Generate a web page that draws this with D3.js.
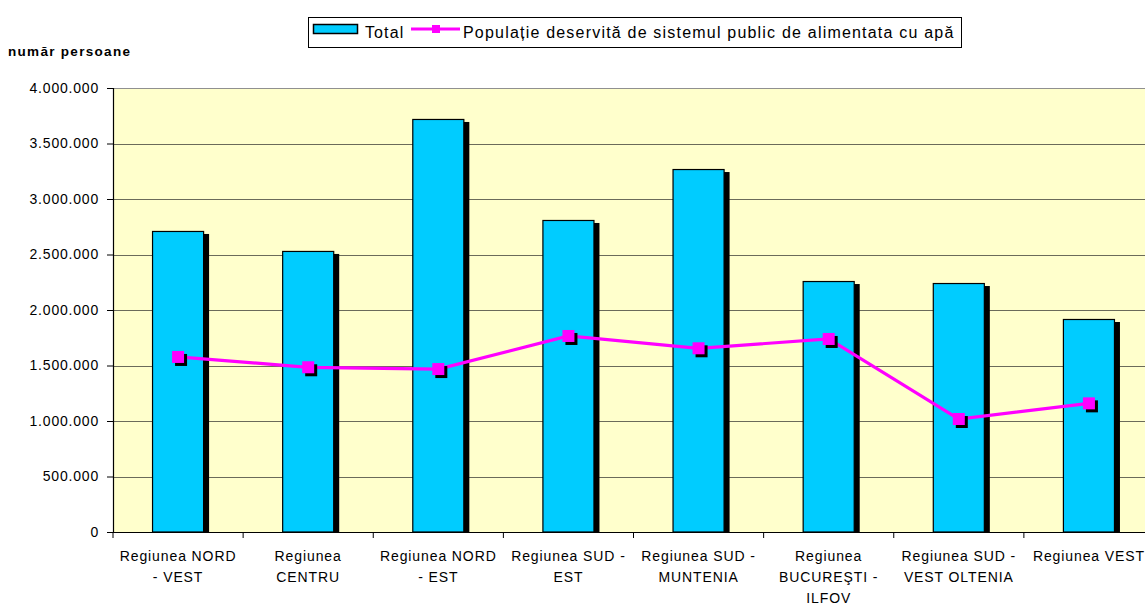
<!DOCTYPE html>
<html><head><meta charset="utf-8">
<script src="https://cdn.jsdelivr.net/npm/d3@7"></script>
<style>
body{margin:0;background:#fff;}
text{font-family:Arial,"Liberation Sans",sans-serif;fill:#000;}
</style></head>
<body><svg id="c" width="1145" height="606"></svg>
<script>
const categories = [
  ["Regiunea NORD","- VEST"],
  ["Regiunea","CENTRU"],
  ["Regiunea NORD","- EST"],
  ["Regiunea SUD -","EST"],
  ["Regiunea SUD -","MUNTENIA"],
  ["Regiunea","BUCUREŞTI -","ILFOV"],
  ["Regiunea SUD -","VEST OLTENIA"],
  ["Regiunea VEST"]
];
const totalValues = [2712000, 2532000, 3721000, 2811000, 3270000, 2261000, 2243000, 1919000];
const servedValues = [1577000, 1484000, 1468000, 1766000, 1655000, 1739000, 1018000, 1159000];
const yTicks = [0, 500000, 1000000, 1500000, 2000000, 2500000, 3000000, 3500000, 4000000];
const seriesNames = ["Total", "Populație deservită de sistemul public de alimentata cu apă"];
const yTitle = "număr persoane";

const svg = d3.select("#c");
const L = 113, T = 88, B = 532, R = 1154;
const keys = categories.map((c,i)=>String(i));
const x = d3.scaleBand().domain(keys).range([L, R]).paddingInner(0.6).paddingOuter(0.3);
const y = d3.scaleLinear().domain([0, 4000000]).range([B, T]);
const loc = d3.formatLocale({decimal:",", thousands:".", grouping:[3], currency:["",""]});
const fmt = loc.format(",d");

// plot background
svg.append("rect").attr("x",L).attr("y",T).attr("width",R-L).attr("height",B-T).attr("fill","#FFFFCC");
// gridlines
svg.append("g").selectAll("line").data(yTicks.slice(1)).join("line")
  .attr("x1",L).attr("x2",R).attr("y1",d=>Math.round(y(d))+0.5).attr("y2",d=>Math.round(y(d))+0.5)
  .attr("stroke",(d,i)=>i===yTicks.length-2?"#909090":"#6b6b5a").attr("stroke-width",1.2);

// bars shadows and bars
const bars = svg.append("g");
bars.selectAll("rect.s").data(totalValues).join("rect").attr("class","s")
  .attr("x",(d,i)=>x(keys[i])+5).attr("y",d=>y(d)+3)
  .attr("width",x.bandwidth()).attr("height",d=>B-y(d)-3).attr("fill","#000");
bars.selectAll("rect.b").data(totalValues).join("rect").attr("class","b")
  .attr("x",(d,i)=>x(keys[i])+0.5).attr("y",d=>y(d)+0.5)
  .attr("width",x.bandwidth()-1).attr("height",d=>B-y(d)-0.5)
  .attr("fill","#00CCFF").attr("stroke","#000").attr("stroke-width",1.2);

// line
const cx = i => x(keys[i]) + x.bandwidth()/2;
const line = d3.line().x((d,i)=>cx(i)).y(d=>y(d));
svg.append("path").datum(servedValues).attr("d",line).attr("fill","none")
  .attr("stroke","#FF00FF").attr("stroke-width",3.2);
const ms = 12;
svg.append("g").selectAll("rect").data(servedValues).join("rect")
  .attr("x",(d,i)=>cx(i)-ms/2+3).attr("y",d=>y(d)-ms/2+3).attr("width",ms).attr("height",ms).attr("fill","#000");
svg.append("g").selectAll("rect").data(servedValues).join("rect")
  .attr("x",(d,i)=>cx(i)-ms/2).attr("y",d=>y(d)-ms/2).attr("width",ms).attr("height",ms).attr("fill","#FF00FF");

// axes
const yAxis = svg.append("g").attr("transform",`translate(${L},0)`)
  .call(d3.axisLeft(y).tickValues(yTicks).tickFormat(fmt).tickSize(6).tickPadding(8));
yAxis.select(".domain").attr("stroke","#000").attr("stroke-width",1.2);
yAxis.selectAll(".tick line").attr("stroke","#000");
yAxis.selectAll("text").attr("font-size","14px").attr("letter-spacing","0.8px").attr("fill","#000");

svg.append("line").attr("x1",L).attr("x2",R).attr("y1",B+0.5).attr("y2",B+0.5).attr("stroke","#000").attr("stroke-width",1.2);
const step = x.step();
svg.append("g").selectAll("line").data(d3.range(keys.length+1)).join("line")
  .attr("x1",i=>L+i*step).attr("x2",i=>L+i*step).attr("y1",B).attr("y2",B+6).attr("stroke","#000");

const xl = svg.append("g");
categories.forEach((lines,i)=>{
  const t = xl.append("text").attr("text-anchor","middle").attr("font-size","14px").attr("letter-spacing","0.9px");
  lines.forEach((ln,j)=>t.append("tspan").attr("x",cx(i)).attr("y",561+j*21).text(ln));
});

// y title
svg.append("text").attr("x",8).attr("y",56).attr("font-size","13.5px").attr("font-weight","bold")
  .attr("letter-spacing","1.3px").text(yTitle);

// legend
const lg = svg.append("g");
lg.append("rect").attr("x",308.5).attr("y",17.5).attr("width",653).attr("height",30).attr("fill","#fff").attr("stroke","#000");
lg.append("rect").attr("x",313.5).attr("y",24.5).attr("width",44).attr("height",9).attr("fill","#00CCFF").attr("stroke","#000").attr("stroke-width",1.5);
lg.append("text").attr("x",365).attr("y",38).attr("font-size","16px").attr("letter-spacing","1.1px").text(seriesNames[0]);
lg.append("line").attr("x1",411).attr("x2",460).attr("y1",29).attr("y2",29).attr("stroke","#FF00FF").attr("stroke-width",3);
lg.append("rect").attr("x",432).attr("y",25).attr("width",8).attr("height",8).attr("fill","#FF00FF");
lg.append("text").attr("x",463).attr("y",38).attr("font-size","16px").attr("letter-spacing","1.2px").text(seriesNames[1]);
</script></body></html>
